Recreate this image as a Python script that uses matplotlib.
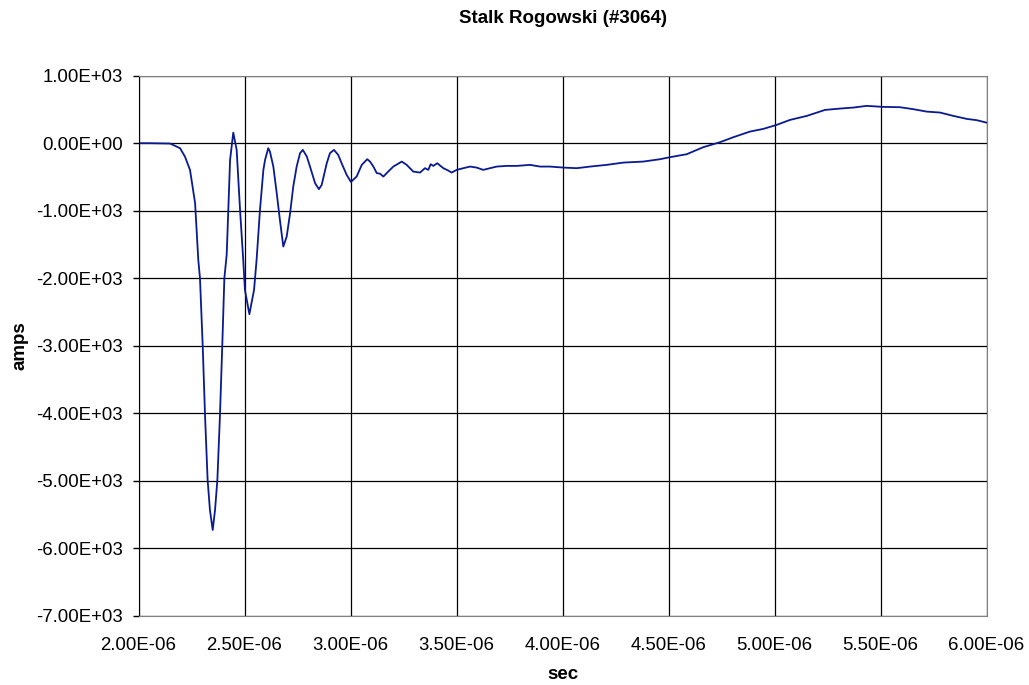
import numpy as np
import matplotlib
matplotlib.use("Agg")
import matplotlib.pyplot as plt
from matplotlib.ticker import FuncFormatter

# Stalk Rogowski (#3064) - current trace
# time in microseconds, current in amps
time_us = [
    2.000, 2.054, 2.149, 2.196, 2.219, 2.243, 2.267, 2.282, 2.290, 2.303,
    2.314, 2.326, 2.337, 2.350, 2.361, 2.372, 2.384, 2.395, 2.405, 2.416,
    2.432, 2.447, 2.463, 2.479, 2.494, 2.502, 2.523, 2.545, 2.557, 2.573,
    2.589, 2.597, 2.612, 2.620, 2.636, 2.652, 2.667, 2.683, 2.699, 2.715,
    2.730, 2.746, 2.762, 2.775, 2.794, 2.809, 2.833, 2.851, 2.864, 2.888,
    2.903, 2.922, 2.942, 2.958, 2.982, 3.002, 3.029, 3.053, 3.079, 3.092,
    3.108, 3.124, 3.139, 3.155, 3.178, 3.202, 3.242, 3.265, 3.296, 3.328,
    3.351, 3.367, 3.378, 3.391, 3.409, 3.438, 3.461, 3.477, 3.501, 3.532,
    3.564, 3.595, 3.626, 3.658, 3.690, 3.737, 3.784, 3.847, 3.894, 3.941,
    4.004, 4.067, 4.130, 4.208, 4.287, 4.381, 4.460, 4.507, 4.586, 4.664,
    4.743, 4.806, 4.884, 4.947, 5.010, 5.073, 5.152, 5.238, 5.309, 5.372,
    5.435, 5.513, 5.592, 5.655, 5.718, 5.781, 5.844, 5.907, 5.954, 6.000,
]
amps = [
    0, 0, -5, -74, -198, -396, -889, -1729, -2000, -3013,
    -4050, -4988, -5433, -5729, -5433, -4988, -4050, -3013, -2000, -1650,
    -247, 157, -99, -988, -1729, -2173, -2533, -2173, -1729, -988,
    -396, -247, -74, -124, -346, -741, -1136, -1531, -1383, -1037,
    -642, -346, -148, -99, -198, -346, -593, -681, -618, -296,
    -148, -99, -173, -296, -470, -573, -494, -321, -237, -272,
    -346, -444, -451, -494, -420, -346, -272, -321, -420, -435,
    -370, -395, -311, -336, -296, -370, -405, -435, -395, -370,
    -346, -361, -395, -370, -346, -336, -336, -321, -346, -346,
    -361, -370, -346, -321, -287, -272, -237, -207, -163, -59,
    15, 89, 172, 212, 271, 345, 404, 493, 513, 528,
    553, 538, 533, 504, 468, 454, 404, 360, 341, 305,
]

x_ticks = [2.0e-6, 2.5e-6, 3.0e-6, 3.5e-6, 4.0e-6, 4.5e-6, 5.0e-6, 5.5e-6, 6.0e-6]
y_ticks = [-7000, -6000, -5000, -4000, -3000, -2000, -1000, 0, 1000]

t = np.array(time_us) * 1e-6

plt.rcParams['font.family'] = ['Liberation Sans', 'DejaVu Sans']

fig = plt.figure(figsize=(10.29, 6.85), dpi=100)
ax = fig.add_axes([0.1346, 0.1010, 0.8241, 0.7885])

ax.plot(t, amps, color='#0a1a90', linewidth=1.3)

ax.set_xlim(x_ticks[0], x_ticks[-1])
ax.set_ylim(y_ticks[0], y_ticks[-1])
ax.set_xticks(x_ticks)
ax.set_yticks(y_ticks)
ax.xaxis.set_major_formatter(FuncFormatter(lambda v, p: f"{v:.2E}"))
ax.yaxis.set_major_formatter(FuncFormatter(lambda v, p: f"{v:.2E}"))
ax.tick_params(axis='x', length=0, pad=15, labelsize=13.4)
ax.tick_params(axis='y', length=4, width=1, pad=7.5, labelsize=13.4)

ax.grid(True, color='black', linewidth=0.9)
ax.set_axisbelow(True)
for side in ['top', 'right', 'bottom']:
    ax.spines[side].set_color('#808080')
ax.spines['left'].set_color('black')

ax.set_title('Stalk Rogowski (#3064)', fontsize=13.5, fontweight='bold', pad=38)
ax.set_xlabel('sec', fontsize=13.5, fontweight='bold', labelpad=9)
ax.set_ylabel('amps', fontsize=13.5, fontweight='bold', labelpad=5)

fig.savefig('out.png', dpi=100)
